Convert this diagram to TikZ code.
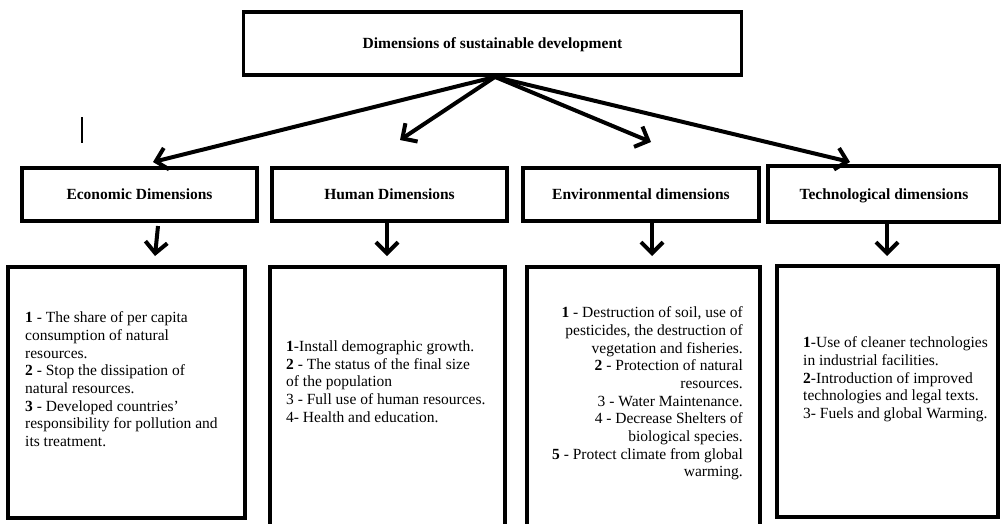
\documentclass[tikz,border=0pt]{standalone}
\usepackage{fontspec}
\setmainfont{Liberation Serif}
\usetikzlibrary{arrows.meta}
\begin{document}
\begin{tikzpicture}[x=1pt,y=-1pt,
  box/.style={draw, line width=3.3pt, inner sep=0pt},
  head/.style={font=\fontsize{15.5}{17.7}\selectfont\bfseries, text height=10.5pt, text depth=0pt},
  body/.style={font=\fontsize{15.5}{17.7}\selectfont, inner sep=0pt},
  arr/.style={line width=4pt, -{Straight Barb[length=11pt,width=22pt]}}]
\useasboundingbox (0,0) rectangle (1001,523);
% top box
\node[box, line width=3.8pt, head, minimum width=498pt, minimum height=63pt] (top) at (492.5,43.5) {Dimensions of sustainable development};
% second row
\node[box, head, minimum width=235pt, minimum height=53pt] (econ) at (139.5,194.5) {Economic Dimensions};
\node[box, head, minimum width=235pt, minimum height=53pt] (human) at (389.5,194.5) {Human Dimensions};
\node[box, head, minimum width=236pt, minimum height=53pt] (env) at (641,194.5) {Environmental dimensions};
\node[box, head, minimum width=232pt, minimum height=56pt] (tech) at (884,194) {Technological dimensions};
% bottom boxes
\node[box, line width=3.8pt, minimum width=237pt, minimum height=251pt] (econb) at (126.5,392.5) {};
\node[box, line width=3.8pt, minimum width=235pt, minimum height=263pt] (humanb) at (387.5,398.5) {};
\node[box, line width=3.8pt, minimum width=233pt, minimum height=263pt] (envb) at (643.5,398.5) {};
\node[box, line width=3.8pt, minimum width=221pt, minimum height=251pt] (techb) at (887.5,391.5) {};
% texts
\node[body, align=left, anchor=north west] (econt) at (25,311.5) {\textbf{1} - The share of per capita\\consumption of natural\\resources.\\\textbf{2} - Stop the dissipation of\\natural resources.\\\textbf{3} - Developed countries'\\responsibility for pollution and\\its treatment.};
\node[body, align=left, anchor=north west] (humant) at (286,340.5) {\textbf{1}-Install demographic growth.\\\textbf{2} - The status of the final size\\of the population\\3 - Full use of human resources.\\4- Health and education.};
\node[body, align=right, anchor=north east] (envt) at (743,306.5) {\textbf{1} - Destruction of soil, use of\\pesticides, the destruction of\\vegetation and fisheries.\\\textbf{2} - Protection of natural\\resources.\\3 - Water Maintenance.\\4 - Decrease Shelters of\\biological species.\\\textbf{5} - Protect climate from global\\warming.};
\node[body, align=left, anchor=north west] (techt) at (803,336.5) {\textbf{1}-Use of cleaner technologies\\in industrial facilities.\\\textbf{2}-Introduction of improved\\technologies and legal texts.\\3- Fuels and global Warming.};
% arrow ends
\coordinate (hub) at ([xshift=2.5pt]top.south);
\coordinate (econtip) at (153,162);
\coordinate (humantip) at (400,140);
\coordinate (envtip) at (651,142);
\coordinate (techtip) at (850,162);
\coordinate (econstart) at (158,226);
\coordinate (econtip2) at (155,256);
\coordinate (humantip2) at (387,256);
\coordinate (envtip2) at (652,256);
\coordinate (techtip2) at (887,256);
% arrows
\draw[arr] (hub) -- (econtip);
\draw[arr] (hub) -- (humantip);
\draw[arr] (hub) -- (envtip);
\draw[arr] (hub) -- (techtip);
\draw[arr] (econstart) -- (econtip2);
\draw[arr] (human.south -| humantip2) -- (humantip2);
\draw[arr] (env.south -| envtip2) -- (envtip2);
\draw[arr] (tech.south -| techtip2) -- (techtip2);
% stray mark
\draw[line width=1.3pt] (82,117) -- (82,143);
\end{tikzpicture}
\end{document}
